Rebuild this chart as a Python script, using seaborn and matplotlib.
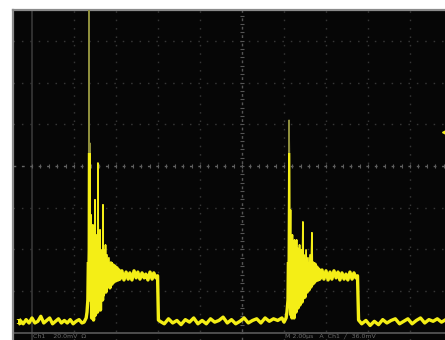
import numpy as np
import pandas as pd
import matplotlib
matplotlib.use("Agg")
import matplotlib.pyplot as plt
from matplotlib.patches import Rectangle
import seaborn as sns

# ---- data (units: scope divisions) ----
base1_t = [-0.28, -0.21, -0.14, -0.07, 0.00, 0.07, 0.14, 0.21, 0.28, 0.35, 0.42, 0.49,
           0.56, 0.63, 0.70, 0.77, 0.84, 0.91, 0.98, 1.05, 1.12, 1.19]
base1_v = [-3.70, -3.78, -3.68, -3.76, -3.64, -3.76, -3.72, -3.60, -3.76, -3.70, -3.64, -3.78,
           -3.72, -3.66, -3.76, -3.70, -3.76, -3.68, -3.78, -3.72, -3.68, -3.76]

pulse1_t = [1.24, 1.29, 1.31, 1.33, 1.345, 1.357, 1.37, 1.38, 1.39, 1.405, 1.42, 1.43, 1.44,
            1.45, 1.465, 1.475, 1.49, 1.50, 1.51, 1.525, 1.535, 1.55, 1.56, 1.57, 1.585, 1.595,
            1.605, 1.62, 1.63, 1.645, 1.655, 1.665, 1.68, 1.69, 1.70, 1.715, 1.74, 1.75, 1.76,
            1.785, 1.81, 1.83, 1.855, 1.88, 1.905, 1.93, 1.95, 1.975, 2.0, 2.025, 2.05, 2.07,
            2.095, 2.14, 2.19, 2.24, 2.29, 2.33, 2.38, 2.43, 2.48, 2.52, 2.57, 2.62, 2.67, 2.71,
            2.76, 2.81, 2.86, 2.90, 2.95, 2.99, 3.01]
pulse1_v = [-3.74, -3.64, -3.50, -3.21, -2.01, 4.50, -2.97, 0.55, -3.21, -1.17, -3.64, -1.53,
            -3.45, -1.41, -3.69, -1.77, -3.33, -0.81, -3.57, -1.65, -3.21, -2.01, -3.50, 0.07,
            -3.33, -1.77, -3.21, -1.53, -3.45, -2.13, -3.16, -2.01, -3.21, -0.93, -3.09, -2.01,
            -2.97, -1.89, -3.02, -2.13, -2.85, -2.20, -2.92, -2.30, -2.83, -2.37, -2.78, -2.40,
            -2.75, -2.44, -2.73, -2.49, -2.71, -2.51, -2.73, -2.54, -2.71, -2.56, -2.73, -2.51,
            -2.68, -2.54, -2.71, -2.56, -2.68, -2.59, -2.73, -2.54, -2.71, -2.56, -2.68, -2.63,
            -3.69]

base2_t = [3.05, 3.15, 3.25, 3.35, 3.45, 3.55, 3.65, 3.75, 3.85, 3.95, 4.05, 4.15, 4.25, 4.35,
           4.45, 4.55, 4.65, 4.75, 4.85, 4.95, 5.05, 5.15, 5.25, 5.35, 5.45, 5.55, 5.65, 5.75,
           5.85, 5.95]
base2_v = [-3.72, -3.78, -3.66, -3.76, -3.70, -3.80, -3.68, -3.74, -3.64, -3.78, -3.70, -3.78,
           -3.66, -3.74, -3.70, -3.62, -3.76, -3.68, -3.78, -3.72, -3.64, -3.76, -3.70, -3.66,
           -3.76, -3.64, -3.72, -3.66, -3.70, -3.64]

pulse2_t = [6.0, 6.05, 6.07, 6.095, 6.105, 6.12, 6.13, 6.14, 6.155, 6.165, 6.18, 6.19, 6.20,
            6.215, 6.225, 6.24, 6.25, 6.26, 6.275, 6.285, 6.30, 6.31, 6.32, 6.335, 6.345, 6.355,
            6.37, 6.38, 6.39, 6.405, 6.415, 6.43, 6.45, 6.465, 6.475, 6.50, 6.525, 6.55, 6.57,
            6.595, 6.62, 6.64, 6.665, 6.68, 6.69, 6.715, 6.74, 6.76, 6.785, 6.81, 6.83, 6.855,
            6.905, 6.95, 7.0, 7.05, 7.095, 7.14, 7.19, 7.24, 7.285, 7.33, 7.38, 7.43, 7.475,
            7.52, 7.57, 7.62, 7.665, 7.71, 7.75, 7.775]
pulse2_v = [-3.74, -3.64, -3.50, -3.21, -2.25, 1.10, 0.38, -3.21, -1.05, -3.57, -2.01, -3.64,
            -1.65, -3.45, -1.89, -3.64, -1.77, -3.33, -2.01, -3.50, -1.77, -3.21, -1.96, -3.40,
            -2.01, -3.21, -1.89, -3.33, -2.13, -3.21, -2.01, -3.26, -1.34, -3.16, -2.13, -3.14,
            -2.01, -3.02, -2.20, -2.97, -2.13, -2.90, -1.60, -2.83, -2.30, -2.80, -2.35, -2.75,
            -2.42, -2.73, -2.47, -2.71, -2.49, -2.71, -2.51, -2.73, -2.54, -2.71, -2.51, -2.68,
            -2.54, -2.73, -2.56, -2.71, -2.59, -2.73, -2.54, -2.71, -2.56, -2.68, -2.63, -3.69]

base3_t = [7.85, 7.95, 8.05, 8.15, 8.25, 8.35, 8.45, 8.55, 8.65, 8.75, 8.85, 8.95, 9.05, 9.15,
           9.25, 9.35, 9.45, 9.55, 9.65, 9.75, 9.85]
base3_v = [-3.78, -3.70, -3.82, -3.72, -3.80, -3.68, -3.76, -3.70, -3.66, -3.78, -3.72, -3.66,
           -3.78, -3.70, -3.64, -3.76, -3.68, -3.72, -3.66, -3.74, -3.68]

trigger_level = 0.81
ground_level = -3.74

status_left = "Ch1    20.0mV  \u03a9"
status_right = "M 2.00\u00b5s   A  Ch1  \u2571  36.0mV"

# ---- figure ----
YEL = "#f4ee16"
DIM = "#8e8e3c"
fig = plt.figure(figsize=(4.45, 3.4), dpi=100, facecolor="white")
ax = fig.add_axes([13 / 445, 0, 432 / 445, 330 / 340])
ax.set_facecolor("#060606")
ax.set_xlim(-0.452, 9.833)
ax.set_ylim(-4.168, 3.737)
ax.set_xticks([]); ax.set_yticks([])
for s in ["right", "bottom"]:
    ax.spines[s].set_visible(False)
for s in ["top", "left"]:
    ax.spines[s].set_color("#8a8a8a")
    ax.spines[s].set_linewidth(1.6)

# graticule
dot = (0, (1.1, 4.95))
for xv in range(1, 10):
    if xv == 5:
        continue
    ax.axvline(xv, color="#363636", lw=1, ls=dot, zorder=1)
for yv in [-3, -2, -1, 1, 2, 3]:
    ax.axhline(yv, color="#363636", lw=1, ls=dot, zorder=1)
ax.axvline(0, color="#383838", lw=1.2, zorder=1)
ax.axhline(-4, color="#5a5a5a", lw=1.2, zorder=1)
ax.axvline(5, color="#555555", lw=1, ls=(0, (2.0, 4.05)), zorder=1)
ax.axhline(0, color="#666666", lw=1, ls=(0, (2.0, 4.05)), zorder=1)
tx = np.arange(0, 9.9, 0.2)
ax.scatter(tx, np.zeros_like(tx), marker="|", s=8, color="#5e5e5e", lw=0.8, zorder=1)
ty = np.arange(-4, 3.8, 0.2)
ax.scatter(np.full_like(ty, 5), ty, marker="_", s=8, color="#555555", lw=0.8, zorder=1)

# trace: dim thin layer for fast transients, brighter layers lower down
t_all = base1_t + pulse1_t + base2_t + pulse2_t + base3_t
v_all = base1_v + pulse1_v + base2_v + pulse2_v + base3_v
df = pd.DataFrame({"t": t_all, "v": v_all})
layers = [(DIM, 1.0, None), (YEL, 1.2, 0.3), (YEL, 2.4, -2.3)]
for color, lw, top in layers:
    sns.lineplot(data=df, x="t", y="v", sort=False, estimator=None, color=color, lw=lw,
                 ax=ax, zorder=3)
    if top is not None:
        clip = Rectangle((-1, -5), 12, top + 5, transform=ax.transData, visible=False)
        ax.add_patch(clip)
        ax.lines[-1].set_clip_path(clip)
ax.set_xlabel(""); ax.set_ylabel("")

# markers
ax.plot([9.83], [trigger_level], marker="<", ms=4, color=YEL, clip_on=False, zorder=5)
ax.text(-0.34, ground_level, "1", color=YEL, fontsize=5, fontweight="bold",
        ha="center", va="center", zorder=5)
ax.plot([-0.27], [ground_level], marker=">", ms=3.5, color=YEL, zorder=5)

fig.text(33 / 445, 0.5 / 340, status_left, color="#6a6a6a", fontsize=4.5, va="bottom", ha="left")
fig.text(285 / 445, 0.5 / 340, status_right, color="#6a6a6a", fontsize=4.5, va="bottom", ha="left")

fig.savefig("out.png", dpi=100, facecolor="white")
